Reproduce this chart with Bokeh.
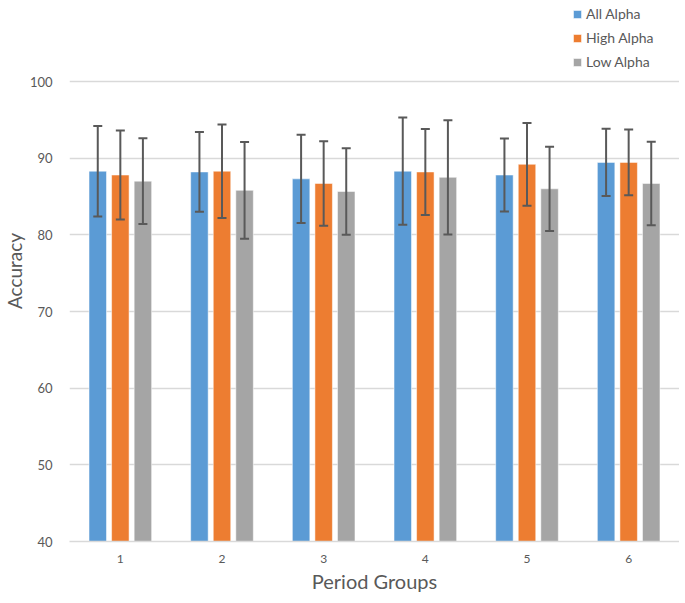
from bokeh.plotting import figure
from bokeh.models import ColumnDataSource, Whisker, TeeHead, Legend, LegendItem, Title, Range1d
from bokeh.transform import dodge
from bokeh.embed import file_html
from bokeh.resources import INLINE

groups = ["1", "2", "3", "4", "5", "6"]
all_alpha = [88.3, 88.2, 87.3, 88.3, 87.8, 89.45]
all_err = [5.9, 5.2, 5.75, 7.0, 4.75, 4.4]
high_alpha = [87.8, 88.3, 86.7, 88.2, 89.2, 89.45]
high_err = [5.8, 6.1, 5.5, 5.6, 5.4, 4.3]
low_alpha = [87.0, 85.8, 85.65, 87.5, 86.0, 86.7]
low_err = [5.6, 6.3, 5.65, 7.45, 5.5, 5.45]
y_ticks = [40, 50, 60, 70, 80, 90, 100]

series = [
    ("All Alpha", all_alpha, all_err, "#5B9BD5", -0.222),
    ("High Alpha", high_alpha, high_err, "#ED7D31", 0.0),
    ("Low Alpha", low_alpha, low_err, "#A5A5A5", 0.222),
]

FONT = "Lato"
TXT = "#595959"

# layout (pixels)
W, H = 679, 597
BOTTOM_PANEL = 56
LEFT_PANEL = 69
TOP_PAD = 81            # free space above the 100 line, inside the frame (legend lives here)
frame_h = H - BOTTOM_PANEL
axis_px = frame_h - TOP_PAD
y0, y1 = y_ticks[0], y_ticks[-1]
y_end = y1 + (y1 - y0) * TOP_PAD / axis_px

p = figure(x_range=groups, y_range=Range1d(y0, y_end), width=W, height=H,
           output_backend="svg", toolbar_location=None,
           min_border_left=LEFT_PANEL, min_border_right=0, min_border_top=0,
           min_border_bottom=BOTTOM_PANEL)
p.outline_line_color = None
p.background_fill_color = "white"

items = []
for name, vals, errs, color, off in series:
    src = ColumnDataSource(dict(
        group=groups, val=vals,
        upper=[v + e for v, e in zip(vals, errs)],
        lower=[v - e for v, e in zip(vals, errs)],
    ))
    r = p.vbar(x=dodge("group", off, range=p.x_range), top="val", bottom=y0,
               width=0.172, source=src, fill_color=color, line_color="white",
               line_alpha=0.5, line_width=1)
    items.append(LegendItem(label=name, renderers=[r]))
    w = Whisker(base=dodge("group", off, range=p.x_range), upper="upper", lower="lower",
                source=src, line_color="#595959", line_width=2, level="overlay",
                upper_head=TeeHead(size=9, line_color="#595959", line_width=2),
                lower_head=TeeHead(size=9, line_color="#595959", line_width=2))
    p.add_layout(w)

legend = Legend(items=items, location=(503, axis_px + 11), orientation="vertical",
                border_line_color=None, background_fill_alpha=0,
                label_text_font=FONT, label_text_font_size="14px", label_text_color=TXT,
                glyph_width=10, glyph_height=10, label_height=12, label_standoff=4,
                spacing=7, padding=0, margin=0)
p.add_layout(legend)

p.xgrid.grid_line_color = None
p.ygrid.grid_line_color = "#D9D9D9"
p.ygrid.grid_line_width = 1.3
p.yaxis.ticker = y_ticks

for ax in (p.xaxis, p.yaxis):
    ax.major_tick_line_color = None
    ax.minor_tick_line_color = None
    ax.major_label_text_font = FONT
    ax.major_label_text_color = TXT
    ax.axis_label_text_font = FONT
    ax.axis_label_text_color = TXT
    ax.axis_label_text_font_style = "normal"

p.yaxis.axis_line_color = None
p.xaxis.axis_line_color = "#D9D9D9"
p.xaxis.axis_line_width = 1.3
p.yaxis.major_label_text_font_size = "13px"
p.xaxis.major_label_text_font_size = "12px"
p.yaxis.major_label_standoff = 11
p.xaxis.major_label_standoff = 7
p.xaxis.axis_label = "Period Groups"
p.xaxis.axis_label_text_font_size = "20px"
p.xaxis.axis_label_standoff = 3

ytitle = Title(text="Accuracy", align="center", text_font=FONT, text_font_size="19px",
               text_font_style="normal", text_color=TXT, standoff=1,
               offset=-(frame_h / 2 - (TOP_PAD + axis_px / 2)))
p.add_layout(ytitle, "left")

open("out.html", "w").write(file_html(p, INLINE))
